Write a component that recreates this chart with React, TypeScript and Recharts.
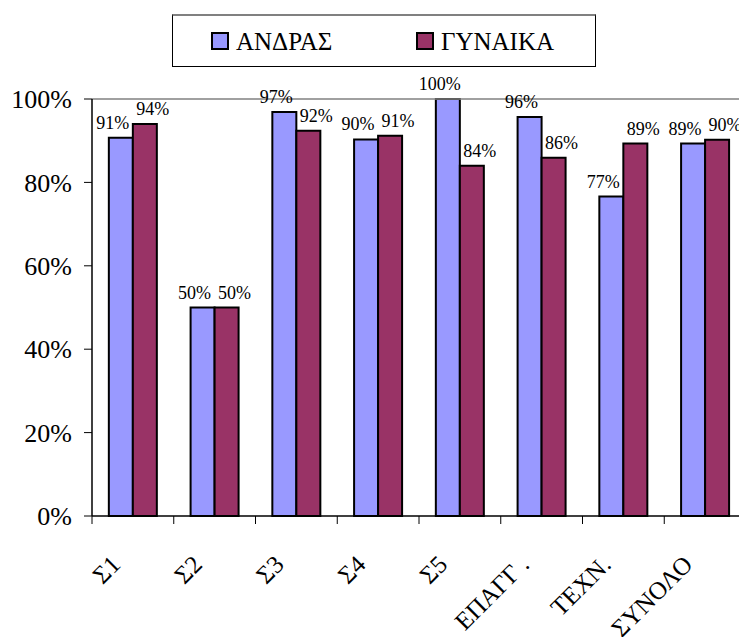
import React from 'react';
import { Bar, BarChart, LabelList, Legend, ReferenceLine, XAxis, YAxis } from 'recharts';

const categories = ['Σ1', 'Σ2', 'Σ3', 'Σ4', 'Σ5', 'ΕΠΑΓΓ .', 'ΤΕΧΝ.', 'ΣΥΝΟΛΟ'];
const andras = [90.7, 50, 96.9, 90.3, 100, 95.7, 76.6, 89.3];
const gynaika = [94.0, 50, 92.4, 91.2, 84.0, 85.9, 89.3, 90.2];
const yTicks = [0, 20, 40, 60, 80, 100];

const SERIES = [
  { key: 'andras', name: 'ΑΝΔΡΑΣ', color: '#9999FF', dx: -8 },
  { key: 'gynaika', name: 'ΓΥΝΑΙΚΑ', color: '#993366', dx: 8 },
];

const data = categories.map((c, i) => ({ name: c, andras: andras[i], gynaika: gynaika[i] }));

const FONT = '"Liberation Serif", "Times New Roman", serif';
const CHART_W = 760;
const CHART_H = 637;
const MARGIN = { top: 99, right: 14, bottom: 0, left: 0 };
const Y_W = 92;
const X_H = 121;
const AXIS_Y = CHART_H - X_H;
const BAND = (CHART_W - MARGIN.left - MARGIN.right - Y_W) / categories.length;

const XTick = (props: any) => {
  const { x, payload, index } = props;
  const half = BAND / 2;
  const ax = x - 11;
  const ay = AXIS_Y + 50;
  return (
    <g>
      <line x1={x - half} x2={x - half} y1={AXIS_Y} y2={AXIS_Y + 8} stroke="#000" />
      {index === categories.length - 1 && (
        <line x1={x + half} x2={x + half} y1={AXIS_Y} y2={AXIS_Y + 8} stroke="#000" />
      )}
      <text
        x={ax}
        y={ay}
        textAnchor="end"
        transform={`rotate(-45, ${ax}, ${ay})`}
        fontFamily={FONT}
        fontSize={25}
        fill="#000"
      >
        {payload.value}
      </text>
    </g>
  );
};

const makeLabel = (dx: number) => (props: any) => {
  const { x, y, width, value } = props;
  return (
    <text
      x={x + width / 2 + dx}
      y={y - 9}
      textAnchor="middle"
      fontFamily={FONT}
      fontSize={18}
      fill="#000"
    >
      {Math.round(value)}%
    </text>
  );
};

const LegendBox = () => (
  <div
    style={{
      position: 'relative',
      width: 424,
      height: 53,
      boxSizing: 'border-box',
      border: '1.5px solid #000',
      borderTop: '2px solid #808080',
      fontFamily: FONT,
      fontSize: 25,
      color: '#000',
    }}
  >
    {SERIES.map((s, i) => (
      <div
        key={s.key}
        style={{
          position: 'absolute',
          left: i === 0 ? 38 : 243,
          top: 0,
          height: '100%',
          display: 'flex',
          alignItems: 'center',
          lineHeight: 1,
        }}
      >
        <span
          style={{
            display: 'inline-block',
            width: 14,
            height: 14,
            background: s.color,
            border: '2px solid #000',
            marginRight: 7,
          }}
        />
        <span>{s.name}</span>
      </div>
    ))}
  </div>
);

export default function App() {
  return (
    <div
      style={{
        position: 'absolute',
        left: 0,
        top: 0,
        width: 739,
        height: 637,
        overflow: 'hidden',
        background: '#fff',
      }}
    >
      <BarChart
        width={CHART_W}
        height={CHART_H}
        data={data}
        margin={MARGIN}
        barCategoryGap="20.6%"
        barGap={0}
      >
        <Legend
          verticalAlign="middle"
          align="center"
          content={<LegendBox />}
          wrapperStyle={{ top: 14, left: 172, width: 424, height: 53 }}
        />
        <ReferenceLine y={100} stroke="#808080" strokeWidth={1.5} />
        <XAxis
          dataKey="name"
          height={X_H}
          axisLine={{ stroke: '#000', strokeWidth: 1.5 }}
          tickLine={false}
          tick={<XTick />}
          interval={0}
        />
        <YAxis
          width={Y_W}
          domain={[0, 100]}
          ticks={yTicks}
          tickFormatter={(v: number) => `${v}%`}
          axisLine={{ stroke: '#000', strokeWidth: 1.5 }}
          tickLine={{ stroke: '#000' }}
          tickSize={8}
          tickMargin={12}
          tick={{ fontFamily: FONT, fontSize: 26, fill: '#000' }}
        />
        {SERIES.map((s) => (
          <Bar
            key={s.key}
            dataKey={s.key}
            name={s.name}
            fill={s.color}
            stroke="#000"
            strokeWidth={2}
            isAnimationActive={false}
          >
            <LabelList dataKey={s.key} content={makeLabel(s.dx)} />
          </Bar>
        ))}
      </BarChart>
    </div>
  );
}
